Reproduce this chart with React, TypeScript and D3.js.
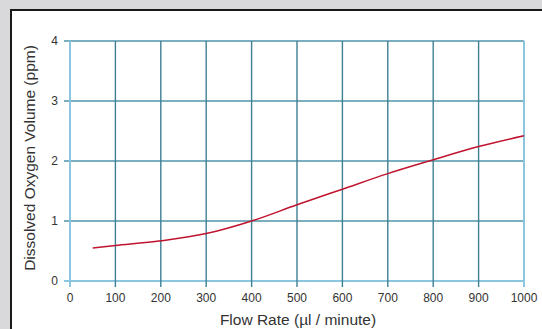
import React from "react";
import * as d3 from "d3";

const flowRates = [50, 100, 200, 300, 400, 500, 600, 700, 800, 900, 1000];
const oxygen = [0.55, 0.59, 0.67, 0.79, 1.0, 1.27, 1.53, 1.79, 2.02, 2.24, 2.42];
const xTicks = [0, 100, 200, 300, 400, 500, 600, 700, 800, 900, 1000];
const yTicks = [0, 1, 2, 3, 4];
const xTitle = "Flow Rate (µl / minute)";
const yTitle = "Dissolved Oxygen Volume (ppm)";

export default function App() {
  const W = 542, H = 329;
  const x = d3.scaleLinear().domain([0, 1000]).range([70, 524]);
  const y = d3.scaleLinear().domain([0, 4]).range([281, 41]);
  const line = d3
    .line<number>()
    .x((_, i) => x(flowRates[i]))
    .y((d) => y(d))
    .curve(d3.curveMonotoneX);
  const font = "'Liberation Sans', Arial, Helvetica, sans-serif";
  return (
    <svg width={W} height={H} style={{ position: "fixed", left: 0, top: 0, fontFamily: font }}>
      <rect x={0} y={0} width={W} height={H} fill="#d9d9dc" />
      <rect x={11} y={10} width={W} height={H} fill="#ffffff" stroke="#1a1a1a" strokeWidth={2} />
      {yTicks.map((t) => (
        <line key={"h" + t} x1={x(0) - 6} x2={x(1000)} y1={y(t)} y2={y(t)}
          stroke={t === 0 ? "#8cc6de" : "#4f94aa"} strokeWidth={t === 0 ? 2 : 1.3} />
      ))}
      {xTicks.map((t) => (
        <line key={"v" + t} x1={x(t)} x2={x(t)} y1={y(4)} y2={y(0) + 6}
          stroke={t === 0 || t === 1000 ? "#8cc6de" : "#3f7f94"} strokeWidth={t === 0 || t === 1000 ? 2 : 1.4} />
      ))}
      <path d={line(oxygen) || ""} fill="none" stroke="#c0142e" strokeWidth={1.5} />
      {yTicks.map((t) => (
        <text key={"yl" + t} x={58} y={y(t)} dy="0.35em" textAnchor="end" fontSize={12} fill="#333">
          {t}
        </text>
      ))}
      {xTicks.map((t) => (
        <text key={"xl" + t} x={x(t)} y={298} dy="0.35em" textAnchor="middle" fontSize={12} fill="#333">
          {t}
        </text>
      ))}
      <text x={298} y={325} textAnchor="middle" fontSize={15.5} fill="#333">{xTitle}</text>
      <text transform={`translate(35, ${y(2) - 3}) rotate(-90)`} textAnchor="middle" fontSize={15.5} fill="#333">
        {yTitle}
      </text>
    </svg>
  );
}
